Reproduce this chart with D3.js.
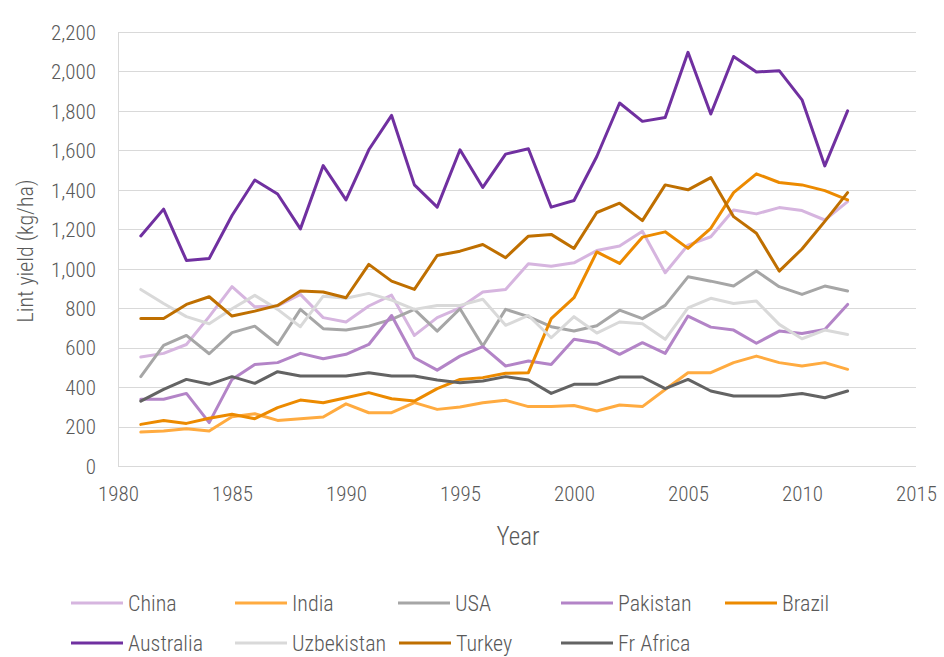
<!DOCTYPE html>
<meta charset="UTF-8">
<script src="https://cdn.jsdelivr.net/npm/d3@7"></script>

<style>
 body { margin:0; background:#fff; }
 svg text {
     font-family:"Roboto Condensed","Liberation Sans Narrow","DejaVu Sans Condensed","Arial Narrow",sans-serif;
     font-weight:300;
     fill:#595959;
 }
 .grid line { stroke:#d9d9d9; stroke-width:1px; }
 .axis path, .axis line { display:none; }
 .series { fill:none; stroke-width:3px; stroke-linejoin:round; stroke-linecap:round; }
</style>

<svg id="chart" width="944" height="657"></svg>

<script>
 // years on the x axis
 var years = [1981,1982,1983,1984,1985,1986,1987,1988,1989,1990,1991,1992,1993,1994,1995,1996,
              1997,1998,1999,2000,2001,2002,2003,2004,2005,2006,2007,2008,2009,2010,2011,2012];

 // lint yield, kg/ha
 var china      = [552,571,616,757,909,807,811,870,752,730,811,866,662,752,802,882,895,1025,1013,1030,1092,1115,1190,980,1120,1162,1298,1278,1310,1295,1247,1340];
 var india      = [172,177,189,177,250,265,231,240,248,315,270,270,321,287,299,321,333,301,301,307,279,309,301,388,473,473,524,557,524,507,524,490];
 var usa        = [453,611,662,569,676,709,616,794,696,689,709,743,794,684,797,608,794,757,706,684,711,790,747,814,959,937,912,988,909,870,912,887];
 var pakistan   = [338,338,368,220,439,515,524,571,544,566,616,763,549,486,557,605,507,532,515,642,624,566,625,571,760,704,689,622,684,672,692,819];
 var brazil     = [211,231,216,242,262,240,296,334,321,346,372,341,329,392,439,448,470,473,747,853,1085,1027,1160,1187,1103,1205,1386,1481,1437,1425,1396,1349];
 var australia  = [1166,1302,1042,1052,1270,1450,1379,1202,1523,1349,1603,1777,1425,1312,1603,1412,1581,1608,1312,1346,1569,1840,1747,1767,2097,1784,2076,1997,2004,1856,1521,1800];
 var uzbekistan = [895,824,757,721,797,865,794,706,861,850,875,841,794,814,814,845,713,763,650,757,674,730,721,642,802,850,824,836,718,645,689,667];
 var turkey     = [748,748,819,858,760,785,814,887,882,853,1022,937,895,1067,1089,1123,1056,1165,1174,1103,1285,1332,1244,1425,1400,1462,1264,1180,988,1100,1240,1386];
 var frAfrica   = [329,388,439,414,453,419,478,456,456,456,473,456,456,436,422,431,453,436,368,414,414,451,451,392,439,380,355,355,355,368,346,380];

 var names  = ["China","India","USA","Pakistan","Brazil","Australia","Uzbekistan","Turkey","Fr Africa"];
 var values = [china,india,usa,pakistan,brazil,australia,uzbekistan,turkey,frAfrica];
 var colors = ["#d6b5df","#ffab40","#a6a6a6","#b384c7","#ec8a00","#7030a0","#d9d9d9","#bf6f00","#636363"];

 var xTicks = [1980,1985,1990,1995,2000,2005,2010,2015];

 var svg = d3.select("#chart");
 var plotLeft = 118, plotRight = 916, plotTop = 32, plotBottom = 466;

 var x = d3.scaleLinear().domain([1980,2015]).range([plotLeft,plotRight]);
 var y = d3.scaleLinear().domain([0,2200]).range([plotBottom,plotTop]);
 var yTicks = d3.range(0,2201,200);

 // gridlines
 svg.append("g").attr("class","grid")
    .selectAll("line").data(yTicks).enter().append("line")
    .attr("x1",plotLeft).attr("x2",plotRight)
    .attr("y1",function (d){return Math.round(y(d))+0.5;})
    .attr("y2",function (d){return Math.round(y(d))+0.5;});
 svg.append("line").attr("x1",plotLeft+0.5).attr("x2",plotLeft+0.5)
    .attr("y1",plotTop).attr("y2",plotBottom)
    .style("stroke","#d9d9d9");

 // axes
 svg.append("g").attr("class","axis")
    .attr("transform","translate("+plotLeft+",0)")
    .call(d3.axisLeft(y).tickValues(yTicks).tickSize(0).tickPadding(22).tickFormat(d3.format(",")))
    .selectAll("text").style("font-size","21px").attr("dy","0.35em");

 svg.append("g").attr("class","axis")
    .attr("transform","translate(0,"+plotBottom+")")
    .call(d3.axisBottom(x).tickValues(xTicks).tickSize(0).tickPadding(20).tickFormat(d3.format("d")))
    .selectAll("text").style("font-size","21px");

 svg.append("text").attr("transform","translate(25,251) rotate(-90)")
    .attr("text-anchor","middle").attr("dy","0.35em")
    .style("font-size","22px").text("Lint yield (kg/ha)");
 svg.append("text").attr("x",518).attr("y",536)
    .attr("text-anchor","middle").attr("dy","0.35em")
    .style("font-size","25px").text("Year");

 // lines
 var line = d3.line()
     .x(function (d,i){return x(years[i]);})
     .y(function (d){return y(d);});

 svg.append("g").selectAll("path").data(values).enter().append("path")
    .attr("class","series")
    .attr("d",line)
    .style("stroke",function (d,i){return colors[i];});

 // legend
 var legendX = [71,235,398,561,725,71,235,399,561];
 var legendY = [603,603,603,603,603,643,643,643,643];
 var lg = svg.append("g").selectAll("g").data(names).enter().append("g")
    .attr("transform",function (d,i){return "translate("+legendX[i]+","+legendY[i]+")";});
 lg.append("line").attr("x1",0).attr("x2",52).attr("y1",0).attr("y2",0)
   .style("stroke-width","3px")
   .style("stroke",function (d,i){return colors[i];});
 lg.append("text").attr("x",57).attr("dy","0.35em")
   .style("font-size","22px").text(function (d){return d;});
</script>
